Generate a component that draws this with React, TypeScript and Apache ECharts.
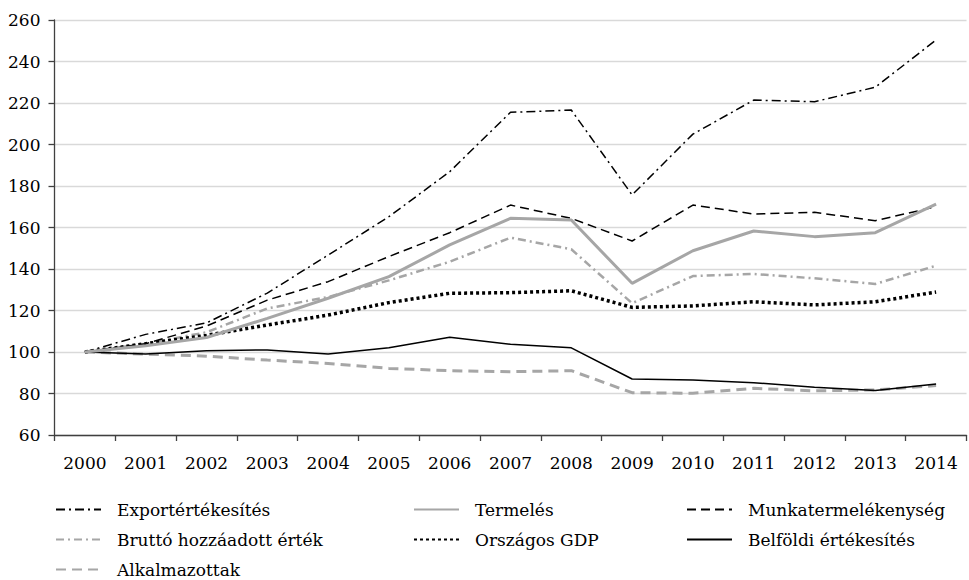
import React, { useEffect, useRef } from "react";
import * as echarts from "echarts";

const years = ["2000","2001","2002","2003","2004","2005","2006","2007","2008","2009","2010","2011","2012","2013","2014"];

const exportErtekesites = [100, 108.5, 114, 128.4, 146.7, 165.2, 186.9, 215.5, 216.6, 175.7, 205, 221.4, 220.6, 227.6, 250.4];
const termeles = [100, 103, 107, 116.2, 125.9, 136.3, 151.6, 164.4, 163.6, 133.1, 148.8, 158.3, 155.6, 157.5, 171.3];
const munkatermelekenyseg = [100, 104, 112.5, 125, 133.9, 146, 157.5, 170.8, 164.4, 153.5, 170.8, 166.5, 167.3, 163.3, 170];
const bruttoHozzaadott = [100, 104, 109.5, 121, 126.5, 134.5, 143.5, 155.1, 149.5, 123.5, 136.6, 137.6, 135.5, 132.8, 141.6];
const orszagosGdp = [100, 104, 108, 113, 117.8, 123.8, 128.3, 128.6, 129.5, 121.5, 122.2, 124.2, 122.7, 124.2, 128.9];
const belfoldiErtekesites = [100, 99, 100.6, 101, 99, 102, 107.1, 103.7, 102, 87, 86.5, 85.2, 83, 81.4, 84.6];
const alkalmazottak = [100, 99, 98, 96.1, 94.5, 92.1, 91, 90.5, 91, 80.4, 80.1, 82.5, 81.3, 81.7, 83.8];

const yTicks = { min: 60, max: 260, interval: 20 };

const FONT = "'DejaVu Serif', serif";

export default function App() {
  const ref = useRef<HTMLDivElement>(null);
  useEffect(() => {
    const chart = echarts.init(ref.current!, undefined, { renderer: "svg" });
    const mk = (name: string, data: number[], color: string, width: number, type: any, z: number) => ({
      name,
      type: "line",
      data,
      symbol: "none",
      showSymbol: false,
      z,
      lineStyle: { color, width, type, cap: "butt" },
      itemStyle: { color },
      emphasis: { disabled: true },
    });
    const legendBase = {
      orient: "vertical",
      top: 501,
      height: 140,
      padding: 0,
      itemWidth: 45,
      itemHeight: 17,
      itemGap: 13,
      selectedMode: false,
      itemStyle: { opacity: 0 },
      textStyle: { fontFamily: FONT, fontSize: 17, color: "#000", lineHeight: 17, padding: [0, 0, 0, 11] },
    };
    chart.setOption({
      animation: false,
      grid: { left: 54.5, right: 2.5, top: 20, bottom: 145, containLabel: false },
      legend: [
        { ...legendBase, left: 55, data: ["Exportértékesítés", "Bruttó hozzáadott érték", "Alkalmazottak"] },
        { ...legendBase, left: 413, data: ["Termelés", "Országos GDP"] },
        { ...legendBase, left: 686, data: ["Munkatermelékenység", "Belföldi értékesítés"] },
      ],
      xAxis: {
        type: "category",
        data: years,
        boundaryGap: true,
        axisLine: { show: true, lineStyle: { color: "#404040", width: 1.3 } },
        axisTick: { show: true, length: 6, lineStyle: { color: "#404040", width: 1.3 } },
        axisLabel: { color: "#000", fontFamily: FONT, fontSize: 17, margin: 19 },
        splitLine: { show: false },
      },
      yAxis: {
        type: "value",
        min: yTicks.min,
        max: yTicks.max,
        interval: yTicks.interval,
        axisLine: { show: true, lineStyle: { color: "#404040", width: 1.3 } },
        axisTick: { show: true, length: 6, lineStyle: { color: "#404040", width: 1.3 } },
        axisLabel: { color: "#000", fontFamily: FONT, fontSize: 17, margin: 14 },
        splitLine: { show: true, lineStyle: { color: "#d9d9d9", width: 1.3 } },
      },
      series: [
        mk("Exportértékesítés", exportErtekesites, "#000000", 1.5, [9, 4, 2, 4], 3),
        mk("Bruttó hozzáadott érték", bruttoHozzaadott, "#a6a6a6", 2.5, [8, 4, 2, 4], 3),
        mk("Alkalmazottak", alkalmazottak, "#a6a6a6", 3, [10, 6], 3),
        mk("Termelés", termeles, "#a6a6a6", 3, "solid", 4),
        mk("Országos GDP", orszagosGdp, "#000000", 3.5, [3, 3], 3),
        mk("Munkatermelékenység", munkatermelekenyseg, "#000000", 1.5, [9, 5], 3),
        mk("Belföldi értékesítés", belfoldiErtekesites, "#000000", 1.5, "solid", 3),
      ],
    });
    return () => chart.dispose();
  }, []);
  return <div ref={ref} style={{ position: "absolute", left: 0, top: 0, width: 969, height: 580 }} />;
}
